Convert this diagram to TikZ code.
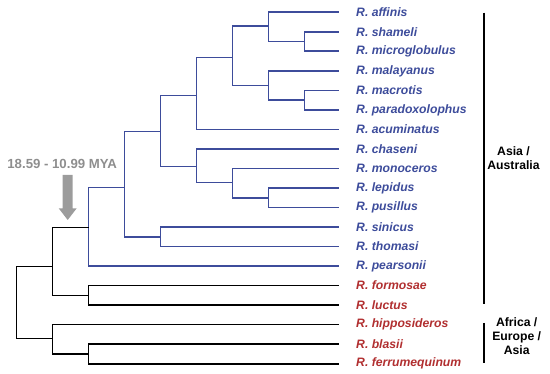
\documentclass[tikz,border=0pt]{standalone}
\usepackage{fontspec}
\setmainfont{Liberation Sans}
\definecolor{tblue}{HTML}{3D4C9B}
\definecolor{tred}{HTML}{B12F30}
\definecolor{tgray}{HTML}{8E8E8E}
\definecolor{agray}{HTML}{9C9C9C}
\begin{document}
\begin{tikzpicture}[x=1pt,y=-1pt,
  br/.style={line width=1.7pt},
  bb/.style={br,tblue},
  bk/.style={br,black},
  sp/.style={anchor=west,inner sep=0pt,font=\fontsize{12.2}{14}\selectfont\bfseries\itshape},
  reg/.style={align=center,inner sep=0pt,font=\fontsize{12.2}{14.3}\selectfont\bfseries},
  bar/.style={line width=2pt,black}]
\useasboundingbox (0,0) rectangle (550,374);
% leaves
\foreach \n/\t/\i/\c in {aff/affinis/0/tblue, sha/shameli/1/tblue, mic/microglobulus/2/tblue,
  mal/malayanus/3/tblue, mac/macrotis/4/tblue, par/paradoxolophus/5/tblue,
  acu/acuminatus/6/tblue, cha/chaseni/7/tblue, mon/monoceros/8/tblue,
  lep/lepidus/9/tblue, pus/pusillus/10/tblue, sin/sinicus/11/tblue,
  tho/thomasi/12/tblue, pea/pearsonii/13/tblue, for/formosae/14/tred,
  luc/luctus/15/tred, hip/hipposideros/16/tred, bla/blasii/17/tred,
  fer/ferrumequinum/18/tred}
  \node[sp,text=\c] (\n) at (356,12.3+19.52*\i) {R. \t};
% internal nodes
\coordinate (nsm) at (304.5,41.5);
\coordinate (na1) at (268.5,26);
\coordinate (nmp) at (304.5,100.1);
\coordinate (na2) at (268.5,85.5);
\coordinate (nA) at (232.5,57.5);
\coordinate (nB) at (196.5,95.5);
\coordinate (nE) at (268.5,197.7);
\coordinate (nD) at (232.5,182.5);
\coordinate (nC) at (196.5,166.5);
\coordinate (nF) at (160.5,131.5);
\coordinate (nG) at (160.5,236.8);
\coordinate (nH) at (124.5,187.5);
\coordinate (nI) at (88.5,227.5);
\coordinate (nJ) at (88.5,295.5);
\coordinate (nK) at (52.5,266.5);
\coordinate (nM) at (88.5,354);
\coordinate (nL) at (52.5,338.5);
\coordinate (root) at (16.5,302);
% blue edges
\draw[bb] (nsm) |- ([xshift=-17pt]sha.west);
\draw[bb] (nsm) |- ([xshift=-17pt]mic.west);
\draw[bb] (na1) |- ([xshift=-17pt]aff.west);
\draw[bb] (na1) |- (nsm);
\draw[bb] (nmp) |- ([xshift=-17pt]mac.west);
\draw[bb] (nmp) |- ([xshift=-17pt]par.west);
\draw[bb] (na2) |- ([xshift=-17pt]mal.west);
\draw[bb] (na2) |- (nmp);
\draw[bb] (nA) |- (na1);
\draw[bb] (nA) |- (na2);
\draw[bb] (nB) |- (nA);
\draw[bb] (nB) |- ([xshift=-17pt]acu.west);
\draw[bb] (nE) |- ([xshift=-17pt]lep.west);
\draw[bb] (nE) |- ([xshift=-17pt]pus.west);
\draw[bb] (nD) |- ([xshift=-17pt]mon.west);
\draw[bb] (nD) |- (nE);
\draw[bb] (nC) |- ([xshift=-17pt]cha.west);
\draw[bb] (nC) |- (nD);
\draw[bb] (nF) |- (nB);
\draw[bb] (nF) |- (nC);
\draw[bb] (nG) |- ([xshift=-17pt]sin.west);
\draw[bb] (nG) |- ([xshift=-17pt]tho.west);
\draw[bb] (nH) |- (nF);
\draw[bb] (nH) |- (nG);
\draw[bb] (nI) |- (nH);
\draw[bb] (nI) |- ([xshift=-17pt]pea.west);
% black edges
\draw[bk] (nJ) |- ([xshift=-17pt]for.west);
\draw[bk] (nJ) |- ([xshift=-17pt]luc.west);
\draw[bk] (nK) |- (nI);
\draw[bk] (nK) |- (nJ);
\draw[bk] (nM) |- ([xshift=-17pt]bla.west);
\draw[bk] (nM) |- ([xshift=-17pt]fer.west);
\draw[bk] (nL) |- ([xshift=-17pt]hip.west);
\draw[bk] (nL) |- (nM);
\draw[bk] (root) |- (nK);
\draw[bk] (root) |- (nL);
% time label and arrow
\node[inner sep=0pt,text=tgray,font=\fontsize{13.2}{15}\selectfont\bfseries] (mya) at (62.2,164) {18.59 - 10.99 MYA};
\fill[agray] (62.7,175) -- (72.7,175) -- (72.7,208.3) -- (76.7,208.3) -- (67.7,220)
  -- (58.7,208.3) -- (62.7,208.3) -- cycle;
% regions
\coordinate (b1t) at (483.5,12.7);
\coordinate (b1b) at (483.5,304.3);
\coordinate (b2t) at (483.5,323);
\coordinate (b2b) at (483.5,362.7);
\draw[bar] (b1t) -- (b1b);
\draw[bar] (b2t) -- (b2b);
\node[reg] (asia) at (513.5,158) {Asia /\\Australia};
\node[reg] (afr) at (516.7,336) {Africa /\\Europe /\\Asia};
\end{tikzpicture}
\end{document}
